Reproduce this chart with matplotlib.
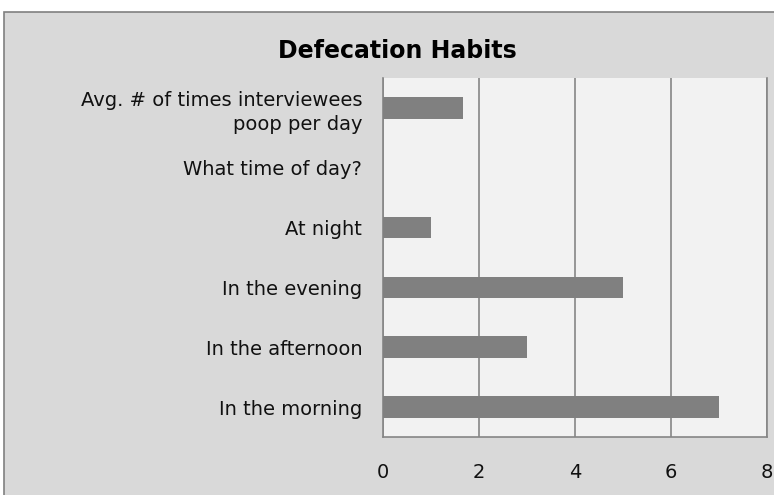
import matplotlib.pyplot as plt
from matplotlib.patches import Rectangle

# data, bottom to top
categories = ['In the morning', 'In the afternoon', 'In the evening', 'At night',
              'What time of day?', 'Avg. # of times interviewees\npoop per day']
values = [7, 3, 5, 1, 0, 1.67]
xticks = [0, 2, 4, 6, 8]

plt.rcParams['font.family'] = ['DejaVu Sans']

fig = plt.figure(figsize=(7.74, 4.95), dpi=100)
fig.patch.set_facecolor('white')

# chart area background with border (clipped on right/bottom as in original)
fig.patches.append(Rectangle((4 / 774, -0.1), 1.2, (495 - 12) / 495 + 0.1,
                             transform=fig.transFigure, facecolor='#d9d9d9',
                             edgecolor='#808080', linewidth=1.2, zorder=-1))

ax = fig.add_axes([383 / 774, 1 - 437 / 495, (767 - 383) / 774, (437 - 78) / 495])
ax.set_zorder(1)
ax.set_facecolor('#f2f2f2')

ypos = list(range(len(categories)))
ax.barh(ypos, values, height=0.36, color='#808080', zorder=3)

ax.set_xlim(0, 8)
ax.set_ylim(-0.5, len(categories) - 0.5)
ax.set_xticks(xticks)
ax.set_xticklabels([str(t) for t in xticks], fontsize=14, color='#111111')
ax.set_yticks(ypos)
ax.set_yticklabels(categories, fontsize=14, ha='right', linespacing=1.35,
                   color='#111111')
ax.tick_params(axis='x', length=0, pad=19)
ax.tick_params(axis='y', length=0, pad=15)

ax.grid(axis='x', color='#868686', linewidth=1.2, zorder=1)
ax.spines['top'].set_visible(False)
for s in ['left', 'bottom', 'right']:
    ax.spines[s].set_color('#868686')
    ax.spines[s].set_linewidth(1.2)

fig.text(397 / 774, 1 - 51 / 495, 'Defecation Habits', ha='center', va='center',
         fontsize=17, fontweight='bold')

fig.savefig('out.png', dpi=100)
